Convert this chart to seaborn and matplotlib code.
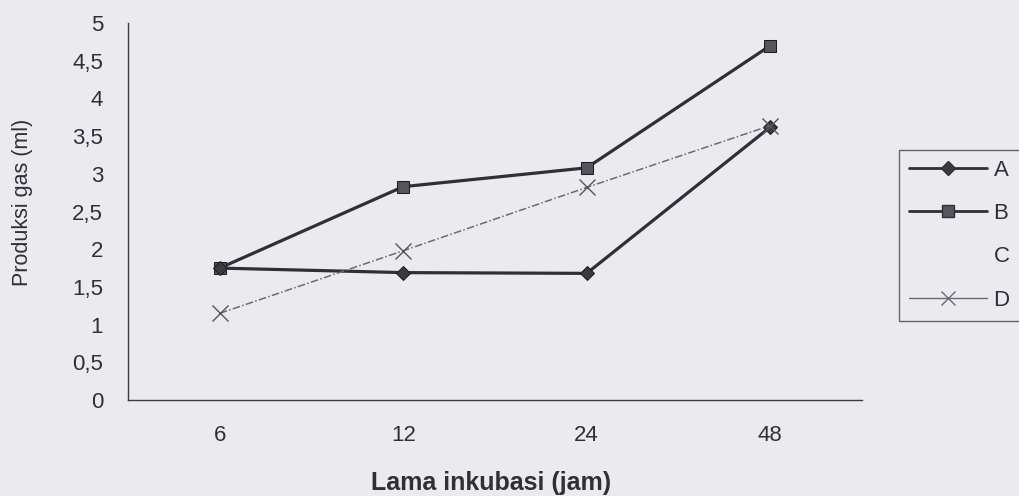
import matplotlib
matplotlib.use("Agg")
import matplotlib.pyplot as plt
from matplotlib.lines import Line2D
import seaborn as sns
import pandas as pd

# Data
jam = ["6", "12", "24", "48"]
prod_a = [1.75, 1.69, 1.68, 3.62]
prod_b = [1.75, 2.83, 3.08, 4.70]
prod_d = [1.15, 1.98, 2.82, 3.64]
y_ticks = [0, 0.5, 1, 1.5, 2, 2.5, 3, 3.5, 4, 4.5, 5]

sns.set_style("white")
plt.rcParams["font.family"] = ["Liberation Sans", "DejaVu Sans"]

bg = "#ebebef"
ink = "#2f2f35"
fig = plt.figure(figsize=(10.2, 4.96), dpi=100, facecolor=bg)
ax = fig.add_axes([0.1255, 0.1935, 0.7195, 0.760])
ax.set_facecolor(bg)

df_a = pd.DataFrame({"jam": jam, "gas": prod_a})
df_b = pd.DataFrame({"jam": jam, "gas": prod_b})
df_d = pd.DataFrame({"jam": jam, "gas": prod_d})

sns.lineplot(data=df_b, x="jam", y="gas", ax=ax, color=ink, lw=2.3,
             marker="s", markersize=8, markeredgecolor="#1e1e22",
             markerfacecolor="#55555c", sort=False)
sns.lineplot(data=df_a, x="jam", y="gas", ax=ax, color=ink, lw=2.3,
             marker="D", markersize=7, markeredgecolor="#1e1e22",
             markerfacecolor="#3a3a40", sort=False)
sns.lineplot(data=df_d, x="jam", y="gas", ax=ax, color="#6a6a72", lw=1.1,
             linestyle=(0, (5, 1.5, 1, 1.5)), marker="x", markersize=11,
             markeredgewidth=1.0, markeredgecolor="#55555a", sort=False)

ax.set_xlim(-0.5, 3.5)
ax.set_ylim(0, 5)
ax.set_yticks(y_ticks)
ax.set_yticklabels([("%g" % v).replace(".", ",") for v in y_ticks])
ax.set_xticks([0, 1, 2, 3])
ax.set_xticklabels(jam)
ax.set_xticks([0.5, 1.5, 2.5, 3.5], minor=True)
ax.tick_params(axis="x", which="major", length=0, pad=18, labelsize=16, labelcolor=ink)
ax.tick_params(axis="x", which="minor", direction="in", length=5, color="#3a3a40")
ax.tick_params(axis="y", direction="out", length=7, labelsize=16, color="#3a3a40",
               labelcolor=ink, pad=11)

for s in ["top", "right"]:
    ax.spines[s].set_visible(False)
for s in ["left", "bottom"]:
    ax.spines[s].set_color("#3a3a40")
    ax.spines[s].set_linewidth(1.0)

ax.set_xlabel("Lama inkubasi (jam)", fontsize=18, fontweight="bold", color=ink, va="center")
ax.xaxis.set_label_coords(0.4946, -0.220)
ax.set_ylabel("Produksi gas (ml)", fontsize=15.5, color=ink, va="center")
ax.yaxis.set_label_coords(-0.144, 0.523)

handles = [
    Line2D([], [], color=ink, lw=2, marker="D", markersize=7, markerfacecolor="#3a3a40"),
    Line2D([], [], color=ink, lw=2, marker="s", markersize=8, markerfacecolor="#55555c"),
    Line2D([], [], color="none"),
    Line2D([], [], color="#6a6a72", lw=1, marker="x", markersize=10),
]
leg = fig.legend(handles, ["A", "B", "C", "D"], loc="upper left",
                 bbox_to_anchor=(0.8814, 0.6976), frameon=True, fancybox=False,
                 fontsize=16, handlelength=3.5, handletextpad=0.3,
                 labelspacing=1.0, borderpad=0.45, borderaxespad=0)
leg.get_frame().set_edgecolor("#444448")
leg.get_frame().set_facecolor(bg)
leg.get_frame().set_linewidth(1.0)
for t in leg.get_texts():
    t.set_color(ink)

plt.savefig("out.png", dpi=100, facecolor=bg)
